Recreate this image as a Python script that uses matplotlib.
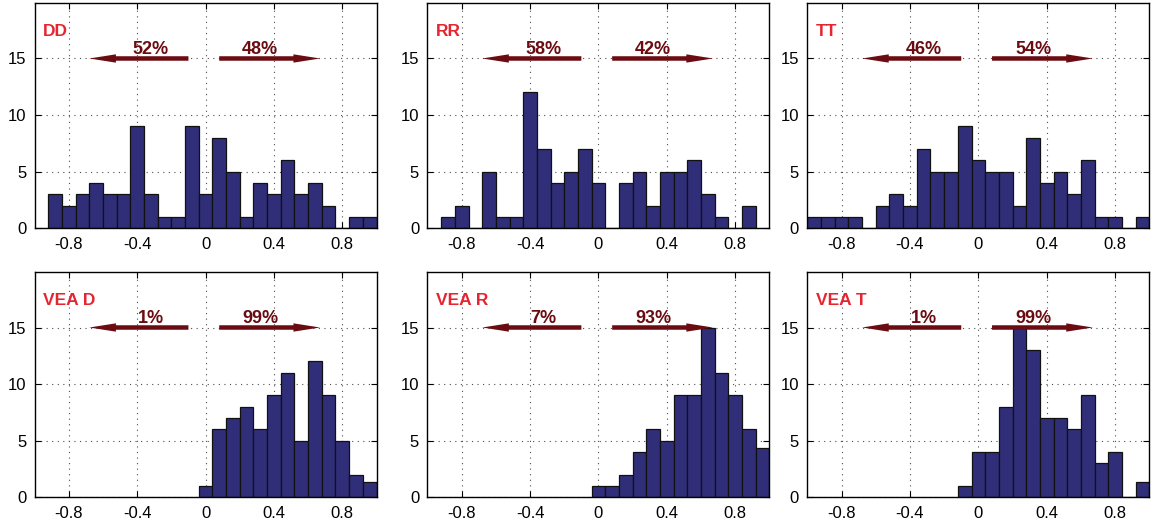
"""Histograms of correlation values for the six conditions (DD, RR, TT and the VEA variants),
with the share of negative / positive values marked by arrows.
"""

#%% Imports
import numpy as np
import matplotlib
matplotlib.use('Agg')
import matplotlib.pyplot as plt
from matplotlib.patches import FancyArrowPatch

#%% Data

bin_width = 0.08

names = ['DD', 'RR', 'TT', 'VEA D', 'VEA R', 'VEA T']

# centre of the first bin of each histogram
first_centers = [-0.88, -0.88, -0.96, 0.0, 0.0, -0.08]

dd_counts = [3, 2, 3, 4, 3, 3, 9, 3, 1, 1, 9, 3, 8, 5, 1, 4, 3, 6, 3, 4, 2, 0, 1, 1]
rr_counts = [1, 2, 0, 5, 1, 1, 12, 7, 4, 5, 7, 4, 0, 4, 5, 2, 5, 5, 6, 3, 1, 0, 2]
tt_counts = [1, 1, 1, 1, 0, 2, 3, 2, 7, 5, 5, 9, 6, 5, 5, 2, 8, 4, 5, 3, 6, 1, 1, 0, 1]
vea_d_counts = [1, 6, 7, 8, 6, 9, 11, 5, 12, 9, 5, 2, 1.35]
vea_r_counts = [1, 1, 2, 4, 6, 5, 9, 9, 15, 11, 9, 6, 4.4]
vea_t_counts = [1, 4, 4, 8, 15, 13, 7, 7, 6, 9, 3, 4, 0, 1.35]

all_counts = [dd_counts, rr_counts, tt_counts, vea_d_counts, vea_r_counts, vea_t_counts]

# percentage of values below / above zero
pct_left = ['52%', '58%', '46%', '1%', '7%', '1%']
pct_right = ['48%', '42%', '54%', '99%', '93%', '99%']

x_ticks = [-0.8, -0.4, 0, 0.4, 0.8]
x_tick_labels = ['-0.8', '-0.4', '0', '0.4', '0.8']
y_ticks = [0, 5, 10, 15]

#%% Style

plt.rcParams['font.family'] = ['Liberation Sans', 'DejaVu Sans']

bar_color = '#302e78'
label_red = '#e52530'
arrow_red = '#6a0c12'

# axes positions in figure fractions [left, bottom, width, height]
col_left = [0.0299, 0.3701, 0.699]
row_bottom = [0.5676, 0.0581]
ax_w = 0.2961
ax_h = 0.4267

fig = plt.figure(figsize=(11.55, 5.28), dpi=100)

#%% Panels
for i, name in enumerate(names):
    row, col = divmod(i, 3)
    ax = fig.add_axes([col_left[col], row_bottom[row], ax_w, ax_h])

    counts = all_counts[i]
    centers = first_centers[i] + bin_width * np.arange(len(counts))
    ax.bar(centers, counts, width=bin_width, color=bar_color,
           edgecolor='#111111', linewidth=0.9, zorder=2)

    ax.set_xlim(-1, 1)
    ax.set_ylim(0, 19.9)
    ax.set_xticks(x_ticks)
    ax.set_xticklabels(x_tick_labels)
    ax.set_yticks(y_ticks)
    ax.tick_params(direction='in', top=True, right=True, length=4,
                   width=0.8, labelsize=12, pad=6)
    ax.set_axisbelow(True)
    ax.grid(True, linestyle=(0, (1, 4)), color='0.3', linewidth=0.8)
    for sp in ax.spines.values():
        sp.set_linewidth(1.0)

    # condition name
    ax.text(0.025, 0.855, name, transform=ax.transAxes, color=label_red,
            fontsize=12.5, fontweight='bold', ha='left', va='baseline')

    # arrows for negative / positive share
    style = 'simple,head_length=1.6,head_width=0.5,tail_width=0.27'
    for start, tip in [(-0.1, -0.68), (0.08, 0.67)]:
        arr = FancyArrowPatch((start, 15), (tip, 15), arrowstyle=style,
                              mutation_scale=12, color=arrow_red, lw=0,
                              shrinkA=0, shrinkB=0, zorder=3)
        ax.add_patch(arr)

    ax.text(-0.32, 15.4, pct_left[i], color=arrow_red, fontsize=13,
            fontweight='bold', ha='center', va='baseline')
    ax.text(0.32, 15.4, pct_right[i], color=arrow_red, fontsize=13,
            fontweight='bold', ha='center', va='baseline')

fig.savefig('out.png', dpi=100)
